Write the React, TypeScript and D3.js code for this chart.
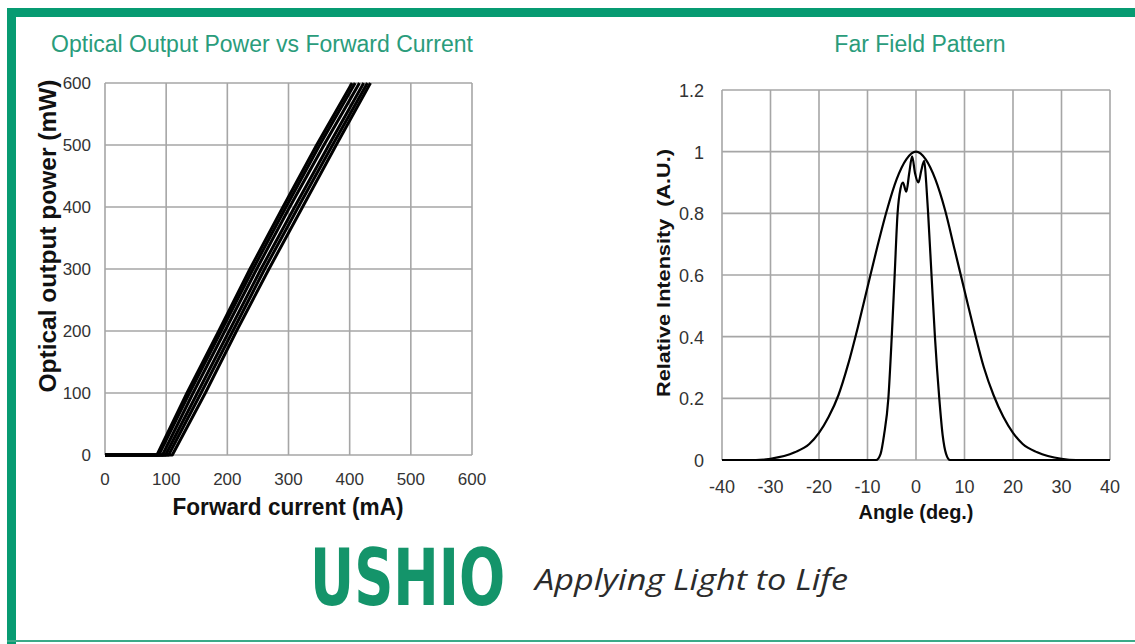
import React from "react";
import * as d3 from "d3";

// ---- data ----
const currentTicks = [0, 100, 200, 300, 400, 500, 600];
const powerTicks = [0, 100, 200, 300, 400, 500, 600];
const powerLevels = [0, 0, 100, 200, 300, 400, 500, 600];

// forward current (mA) at each power level, one array per device
const currentA = [0, 85, 134, 186, 237, 291, 346, 404];
const currentB = [0, 88, 138, 190, 242, 296, 351, 409];
const currentC = [0, 94, 144, 196, 248, 302, 358, 416];
const currentD = [0, 99, 151, 203, 255, 310, 366, 423];
const currentE = [0, 104, 157, 209, 261, 316, 372, 429];
const currentF = [0, 110, 164, 215, 268, 323, 378, 434];
const liSeries = [currentA, currentB, currentC, currentD, currentE, currentF];

const angleTicks = [-40, -30, -20, -10, 0, 10, 20, 30, 40];
const intensityTicks = [0, 0.2, 0.4, 0.6, 0.8, 1, 1.2];

// broad (perpendicular) far field
const broadAngle = [-40, -33, -30, -25, -22, -20, -18, -16, -14, -12, -10, -8, -6, -4, -2, 0,
  2, 4, 6, 8, 10, 12, 14, 16, 18, 20, 22, 25, 30, 33, 40];
const broadValue = [0, 0, 0.004, 0.025, 0.052, 0.088, 0.14, 0.21, 0.31, 0.43, 0.56, 0.69, 0.81, 0.91, 0.975, 1,
  0.975, 0.91, 0.81, 0.68, 0.55, 0.42, 0.3, 0.21, 0.14, 0.088, 0.052, 0.025, 0.004, 0, 0];

// narrow (parallel) far field
const narrowAngle = [-40, -8.2, -7.3, -6.6, -5.7, -5.0, -4.4, -3.8, -3.2, -2.7, -2.0, -1.4, -0.8, -0.2,
  0.5, 1.1, 1.7, 2.1, 2.5, 3.2, 3.9, 4.8, 5.5, 6.2, 7.0, 40];
const narrowValue = [0, 0, 0.02, 0.08, 0.2, 0.4, 0.6, 0.8, 0.88, 0.9, 0.87, 0.93, 0.985, 0.93,
  0.9, 0.94, 0.97, 0.9, 0.8, 0.6, 0.4, 0.2, 0.08, 0.02, 0, 0];

const GREEN = "#079b72";
const TITLE_GREEN = "#2a9c7b";
const GRID = "#a6a6a6";
const FONT = "'Liberation Sans', Arial, sans-serif";

export default function App() {
  const W = 1135;
  const H = 644;

  // left chart scales
  const xL = d3.scaleLinear().domain([0, 600]).range([105, 472]);
  const yL = d3.scaleLinear().domain([0, 600]).range([455, 83]);
  const liLine = d3
    .line<[number, number]>()
    .x((d) => xL(d[0]))
    .y((d) => yL(d[1]));

  // right chart scales
  const xR = d3.scaleLinear().domain([-40, 40]).range([722, 1110]);
  const yR = d3.scaleLinear().domain([0, 1.2]).range([460, 90]);
  const ffLine = d3
    .line<[number, number]>()
    .x((d) => xR(d[0]))
    .y((d) => yR(d[1]))
    .curve(d3.curveMonotoneX);

  const broad = broadAngle.map((a, i) => [a, broadValue[i]] as [number, number]);
  const narrow = narrowAngle.map((a, i) => [a, narrowValue[i]] as [number, number]);

  return (
    <svg
      width={W}
      height={H}
      style={{ position: "absolute", left: 0, top: 0, background: "#fff" }}
      fontFamily={FONT}
    >
      {/* frame */}
      <rect x={7} y={8} width={W - 7} height={9} fill={GREEN} />
      <rect x={7} y={8} width={9} height={H - 8} fill={GREEN} />
      <rect x={7} y={640} width={W - 7} height={2} fill="#3aaa88" />

      {/* ---------- left chart ---------- */}
      <text x={262} y={52} textAnchor="middle" fontSize={23} fill={TITLE_GREEN}>
        Optical Output Power vs Forward Current
      </text>
      <g stroke={GRID} strokeWidth={1.6}>
        {currentTicks.map((t) => (
          <line key={"lx" + t} x1={xL(t)} x2={xL(t)} y1={yL(0)} y2={yL(600)} />
        ))}
        {powerTicks.map((t) => (
          <line key={"ly" + t} x1={xL(0)} x2={xL(600)} y1={yL(t)} y2={yL(t)} />
        ))}
      </g>
      <g fontSize={17} fill="#333">
        {powerTicks.map((t) => (
          <text key={"lyt" + t} x={91} y={yL(t) + 6} textAnchor="end">
            {t}
          </text>
        ))}
        {currentTicks.map((t) => (
          <text key={"lxt" + t} x={xL(t)} y={485} textAnchor="middle">
            {t}
          </text>
        ))}
      </g>
      <g fill="none" stroke="#000" strokeWidth={3} strokeLinejoin="round">
        {liSeries.map((s, i) => (
          <path
            key={"li" + i}
            d={liLine(s.map((c, j) => [c, powerLevels[j]] as [number, number])) || ""}
          />
        ))}
      </g>
      <text
        transform={`translate(56,236) rotate(-90)`}
        textAnchor="middle"
        fontSize={24}
        fontWeight="bold"
        fill="#111"
        textLength={313}
        lengthAdjust="spacingAndGlyphs"
      >
        Optical output power (mW)
      </text>
      <text
        x={288}
        y={515}
        textAnchor="middle"
        fontSize={23}
        fontWeight="bold"
        fill="#111"
        textLength={231}
        lengthAdjust="spacingAndGlyphs"
      >
        Forward current (mA)
      </text>

      {/* ---------- right chart ---------- */}
      <text x={920} y={52} textAnchor="middle" fontSize={23} fill={TITLE_GREEN}>
        Far Field Pattern
      </text>
      <g stroke={GRID} strokeWidth={1.6}>
        {angleTicks.map((t) => (
          <line key={"rx" + t} x1={xR(t)} x2={xR(t)} y1={yR(0)} y2={yR(1.2)} />
        ))}
        {intensityTicks.map((t) => (
          <line key={"ry" + t} x1={xR(-40)} x2={xR(40)} y1={yR(t)} y2={yR(t)} />
        ))}
      </g>
      <g fontSize={18} fill="#333">
        {intensityTicks.map((t) => (
          <text key={"ryt" + t} x={704} y={yR(t) + 7} textAnchor="end">
            {String(t)}
          </text>
        ))}
        {angleTicks.map((t) => (
          <text key={"rxt" + t} x={xR(t)} y={493} textAnchor="middle">
            {t}
          </text>
        ))}
      </g>
      <g fill="none" stroke="#000" strokeWidth={2.2}>
        <path d={ffLine(broad) || ""} />
        <path d={ffLine(narrow) || ""} />
      </g>
      <text
        transform={`translate(670,273) rotate(-90)`}
        textAnchor="middle"
        fontSize={18}
        fontWeight="bold"
        fill="#111"
        textLength={248}
        lengthAdjust="spacingAndGlyphs"
        style={{ whiteSpace: "pre" }}
      >
        Relative Intensity  (A.U.)
      </text>
      <text
        x={916}
        y={519}
        textAnchor="middle"
        fontSize={20}
        fontWeight="bold"
        fill="#111"
        textLength={115}
        lengthAdjust="spacingAndGlyphs"
      >
        Angle (deg.)
      </text>

      {/* ---------- logo ---------- */}
      <g transform="translate(310,605) scale(0.7,1)">
        <text
          x={0}
          y={0}
          fontSize={78}
          fontWeight="bold"
          fill="#14946a"
          textLength={279}
          lengthAdjust="spacingAndGlyphs"
          fontFamily="'DejaVu Sans', sans-serif"
        >
          USHIO
        </text>
      </g>
      <text
        x={535}
        y={590}
        fontSize={30}
        fontStyle="italic"
        fill="#2b2b2b"
        textLength={313}
        lengthAdjust="spacingAndGlyphs"
        fontFamily="'Open Sans', 'DejaVu Sans', sans-serif"
      >
        Applying Light to Life
      </text>
    </svg>
  );
}
